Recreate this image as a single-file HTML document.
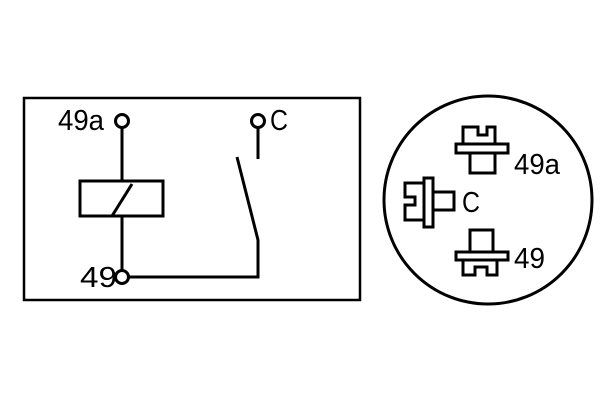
<!DOCTYPE html>
<html><head><style>html,body{margin:0;padding:0;background:#fff}
text{font-family:"Liberation Sans",Arial,sans-serif;font-size:29px;fill:#000}</style></head>
<body>
<svg width="600" height="400" viewBox="0 0 600 400" xmlns="http://www.w3.org/2000/svg" style="display:block">
<g fill="none" stroke="#000" stroke-width="3">
<rect x="24" y="98" width="336" height="202" stroke-width="2.5"/>
<circle cx="122" cy="121" r="6.5"/>
<line x1="122" y1="127" x2="122" y2="181"/>
<rect x="80" y="181" width="83" height="35"/>
<line x1="112" y1="216" x2="132" y2="184"/>
<line x1="122" y1="216" x2="122" y2="271"/>
<circle cx="122" cy="277" r="6.5"/>
<polyline points="128,277 258,277 258,240 237,157"/>
<circle cx="258" cy="121" r="6.5"/>
<line x1="258" y1="127" x2="258" y2="159"/>
<circle cx="488" cy="200" r="104"/>
<path d="M463,144 V127 H478 V135 H487 V127 H495 V144"/>
<rect x="456" y="144" width="52" height="9"/>
<path d="M470,153 V173 H495 V153"/>
<rect x="424" y="178" width="9" height="49"/>
<path d="M424,183 H405 V197 H415 V205 H405 V220 H424"/>
<path d="M433,192 H454 V210 H433"/>
<path d="M470,252 V230 H493 V252"/>
<rect x="456" y="252" width="52" height="8"/>
<path d="M463,260 V275 H475 V267 H487 V275 H497 V260"/>
</g>
<text x="58" y="130" textLength="46" lengthAdjust="spacingAndGlyphs">49a</text>
<text x="270" y="130" textLength="18" lengthAdjust="spacingAndGlyphs">C</text>
<text x="80" y="287" textLength="37" lengthAdjust="spacingAndGlyphs">49</text>
<text x="514" y="174" textLength="46" lengthAdjust="spacingAndGlyphs">49a</text>
<text x="462" y="212" textLength="18" lengthAdjust="spacingAndGlyphs">C</text>
<text x="514" y="268" textLength="31" lengthAdjust="spacingAndGlyphs">49</text>
</svg>
</body></html>
